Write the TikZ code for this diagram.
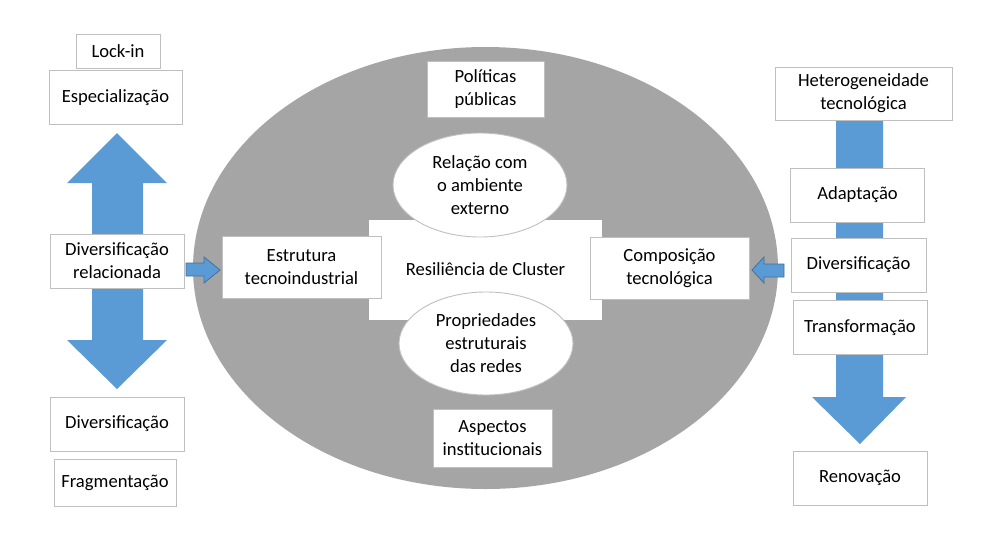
\documentclass[tikz,border=0pt]{standalone}
\usepackage{fontspec}
\setmainfont{Carlito}
\usetikzlibrary{shapes.geometric}
\begin{document}
\begin{tikzpicture}[x=1pt,y=-1pt,
  box/.style={draw=boxgray,line width=0.9pt,fill=white,inner sep=0pt,align=center,
    font=\fontsize{18.6}{23}\selectfont},
  oval/.style={ellipse,draw=boxgray,line width=0.9pt,fill=white,inner sep=0pt,align=center,
    font=\fontsize{18.6}{23}\selectfont},
  barrow/.style={fill=arrowblue},
  sarrow/.style={fill=arrowblue,draw=arrowedge,line width=0.8pt,line join=miter}]
\definecolor{boxgray}{HTML}{BFBFBF}
\definecolor{arrowblue}{HTML}{5B9BD5}
\definecolor{arrowedge}{HTML}{41719C}
\definecolor{bigray}{HTML}{A5A5A5}
\useasboundingbox (0,0) rectangle (985,554);
\fill[white] (0,0) rectangle (985,554);
% big ellipse
\fill[bigray] (485.5,268) ellipse [x radius=292.5, y radius=221];
% left block arrows
\fill[barrow] (92,240) -- (92,183) -- (67,183) -- (117,133) -- (167,183) -- (143,183) -- (143,240) -- cycle;
\fill[barrow] (92,282) -- (92,340) -- (67,340) -- (117,389) -- (167,340) -- (143,340) -- (143,282) -- cycle;
% right block arrow
\fill[barrow] (836,115) -- (836,397) -- (812,397) -- (860,444) -- (906,397) -- (883,397) -- (883,115) -- cycle;
% central rectangle
\node[fill=white,inner sep=0pt,minimum width=233pt,minimum height=100pt,
  font=\fontsize{18.6}{23}\selectfont] (res) at (485.5,269.5) {Resili\^encia de Cluster};
\node[oval,minimum width=174pt,minimum height=104pt] (rel) at (480,185) {Rela\c{c}\~ao com\\o ambiente\\externo};
\node[oval,minimum width=174pt,minimum height=103pt] (prop) at (486,343.5) {Propriedades\\estruturais\\das redes};
% left boxes
\node[box,minimum width=84pt,minimum height=34pt] (lock) at (118,51) {Lock-in};
\node[box,minimum width=133pt,minimum height=54pt] (esp) at (115.5,97.5) {Especializa\c{c}\~ao};
\node[box,minimum width=134pt,minimum height=54pt] (divrel) at (117,261) {Diversifica\c{c}\~ao\\relacionada};
\node[box,minimum width=134pt,minimum height=54pt] (div) at (117,424) {Diversifica\c{c}\~ao};
\node[box,minimum width=122pt,minimum height=47pt] (frag) at (115,482.5) {Fragmenta\c{c}\~ao};
% center boxes
\node[box,minimum width=159pt,minimum height=62pt] (estr) at (301.5,267) {Estrutura\\tecnoindustrial};
\node[box,minimum width=159pt,minimum height=62pt] (comp) at (669.5,268) {Composi\c{c}\~ao\\tecnol\'ogica};
\node[box,minimum width=117pt,minimum height=56pt] (pol) at (485.5,89) {Pol\'iticas\\p\'ublicas};
\node[box,minimum width=119pt,minimum height=58pt] (asp) at (492.5,438) {Aspectos\\institucionais};
% right boxes
\node[box,minimum width=177pt,minimum height=53pt] (het) at (863.5,93.5) {Heterogeneidade\\tecnol\'ogica};
\node[box,minimum width=134pt,minimum height=54pt] (adap) at (857.5,195) {Adapta\c{c}\~ao};
\node[box,minimum width=135pt,minimum height=54pt] (div2) at (858.5,265) {Diversifica\c{c}\~ao};
\node[box,minimum width=134pt,minimum height=54pt] (trans) at (860,327.5) {Transforma\c{c}\~ao};
\node[box,minimum width=134pt,minimum height=54pt] (ren) at (860,478) {Renova\c{c}\~ao};
% small arrows
\draw[sarrow] (186,263) -- (204,263) -- (204,257) -- (220,270) -- (204,283) -- (204,276) -- (186,276) -- cycle;
\draw[sarrow] (784,264) -- (764,264) -- (764,257) -- (752,270) -- (764,283) -- (764,277) -- (784,277) -- cycle;
\end{tikzpicture}
\end{document}
